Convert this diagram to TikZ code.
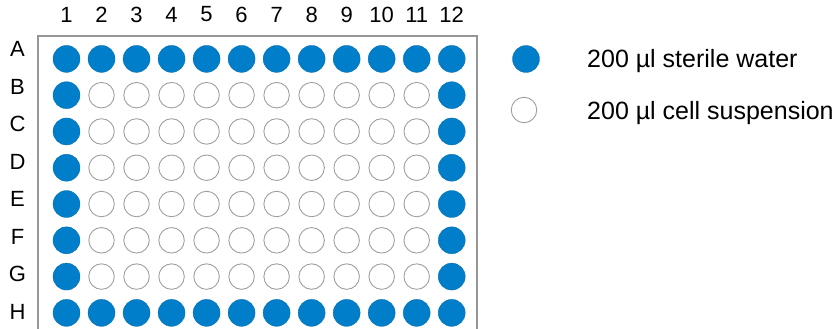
\documentclass[tikz,border=0pt]{standalone}
\usepackage{fontspec}
\setmainfont{Liberation Sans}
\usetikzlibrary{positioning}
\definecolor{wellblue}{RGB}{0,126,202}
\definecolor{rimgray}{RGB}{150,150,150}

\begin{document}
\begin{tikzpicture}[
  x=1pt,y=-1pt,
  waterwell/.style={circle,fill=wellblue,draw=wellblue!85!black,line width=0.3pt,minimum size=27pt,inner sep=0pt},
  suspwell/.style={circle,draw=gray!75,line width=0.9pt,minimum size=25.5pt,inner sep=0pt},
  platelabel/.style={font=\fontsize{22}{26}\selectfont,inner sep=0pt},
  keytext/.style={font=\fontsize{25}{30}\selectfont,anchor=base west,inner sep=0pt}
]
\useasboundingbox (0,0) rectangle (836,329);
\clip (0,0) rectangle (836,329);

% plate outline, cut off at the bottom
\draw[rimgray,line width=1.3pt] (38,36) rectangle (477,345);

\foreach \col in {1,...,12}
  \node[platelabel] (num-\col) at (66.5+35.02*\col-35.02,14.5) {\col};

\foreach \row [count=\i from 0] in {A,B,C,D,E,F,G,H} {
  \node[platelabel] (let-\row) at (17.5,48.9+37.56*\i) {\row};
  \foreach \col in {1,...,12} {
    \pgfmathtruncatemacro{\edge}{(\i==0||\i==7||\col==1||\col==12)?1:0}
    \ifnum\edge=1
      \node[waterwell] (well-\row\col) at (66.5+35.02*\col-35.02,58.9+36.28*\i) {};
    \else
      \node[suspwell] (well-\row\col) at (66.5+35.02*\col-35.02,58.9+36.28*\i) {};
    \fi
  }
}

% legend
\node[waterwell] (key-water) at (526,59) {};
\node[suspwell] (key-susp) at (524,110) {};
\node[keytext] (txt-water) at (587,68) {200 µl sterile water};
\node[keytext] (txt-susp) at (587,119) {200 µl cell suspension};
\end{tikzpicture}
\end{document}
